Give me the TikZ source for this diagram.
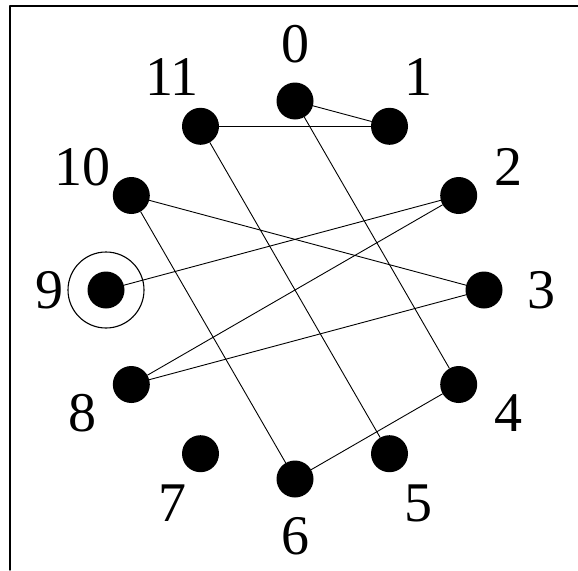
\documentclass[tikz,border=0pt]{standalone}
\usepackage{fontspec}
\setmainfont{Liberation Serif}

\begin{document}
\begin{tikzpicture}[x=1pt,y=-1pt,line cap=round,line join=round,
  dot/.style={circle,fill=black,inner sep=0pt,minimum size=37pt},
  lbl/.style={inner sep=0pt,font=\fontsize{56}{60}\selectfont}]
  \useasboundingbox (0,0) rectangle (578,570);
  \draw[line width=1.4pt] (10,570) -- (10,6) -- (578,6);
  \node[dot] (n0) at (295,101) {};
  \node[dot] (n1) at (389.5,126.3) {};
  \node[dot] (n2) at (458.7,195.5) {};
  \node[dot] (n3) at (484,290) {};
  \node[dot] (n4) at (458.7,384.5) {};
  \node[dot] (n5) at (389.5,453.7) {};
  \node[dot] (n6) at (295,479) {};
  \node[dot] (n7) at (200.5,453.7) {};
  \node[dot] (n8) at (131.3,384.5) {};
  \node[dot] (n9) at (106,290) {};
  \node[dot] (n10) at (131.3,195.5) {};
  \node[dot] (n11) at (200.5,126.3) {};
  \node[lbl] (l0) at (295,44) {0};
  \node[lbl] (l1) at (418,77) {1};
  \node[lbl] (l2) at (508,167) {2};
  \node[lbl] (l3) at (541,290) {3};
  \node[lbl] (l4) at (508,413) {4};
  \node[lbl] (l5) at (418,503) {5};
  \node[lbl] (l6) at (295,536) {6};
  \node[lbl] (l7) at (172,503) {7};
  \node[lbl] (l8) at (82,413) {8};
  \node[lbl] (l9) at (49,290) {9};
  \node[lbl] (l10) at (82,167) {10};
  \node[lbl] (l11) at (172,77) {11};
  \draw[line width=1.1pt] (n9) circle (38pt);
  \draw[line width=0.9pt] (n0) -- (n1);
  \draw[line width=0.9pt] (n11) -- (n1);
  \draw[line width=0.9pt] (n0) -- (n4);
  \draw[line width=0.9pt] (n11) -- (n5);
  \draw[line width=0.9pt] (n10) -- (n3);
  \draw[line width=0.9pt] (n10) -- (n6);
  \draw[line width=0.9pt] (n2) -- (n9);
  \draw[line width=0.9pt] (n2) -- (n8);
  \draw[line width=0.9pt] (n3) -- (n8);
  \draw[line width=0.9pt] (n4) -- (n6);
\end{tikzpicture}
\end{document}
